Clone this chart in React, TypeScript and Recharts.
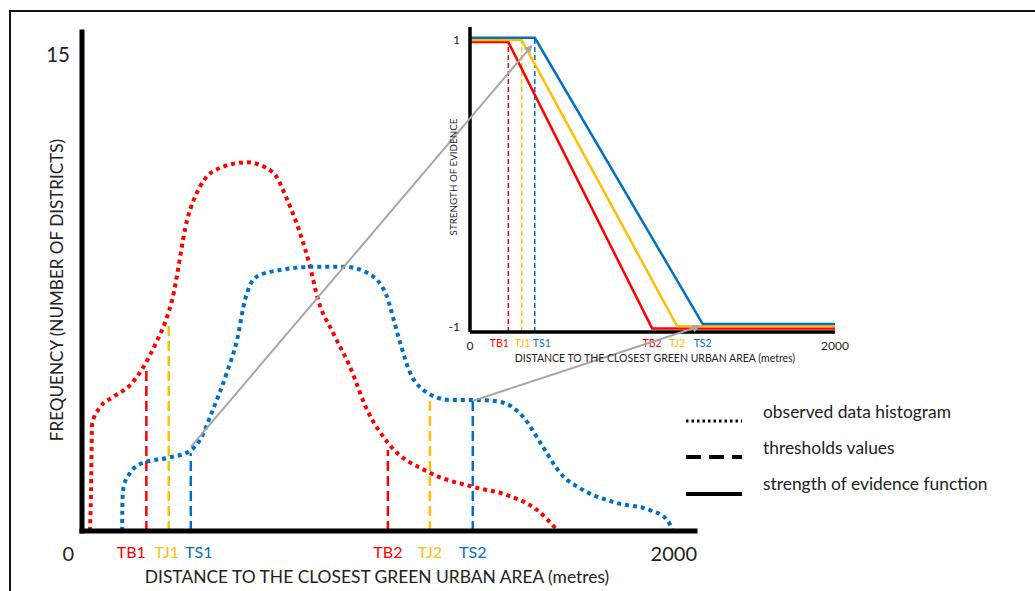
import { ComposedChart, Line, XAxis, YAxis, ReferenceLine } from 'recharts';

// threshold positions (metres)
const TH_NAMES = ['TB1', 'TJ1', 'TS1', 'TB2', 'TJ2', 'TS2'];
const TH_VALUES = [210, 283, 355, 998, 1135, 1275];
// how high each dashed threshold line reaches in the histogram (districts)
const TH_HEIGHTS = [5.1, 6.6, 2.45, 2.55, 4.2, 4.1];

const RED = '#ff0000';
const YELLOW = '#ffc000';
const BLUE = '#0070c0';
const TH_COLORS = [RED, YELLOW, BLUE, RED, YELLOW, BLUE];

const X_TICKS = [0, 2000];
const Y_TICKS = [15];

// observed data histograms (distance, frequency)
const redHist = [
  { x: 26, y: 0 }, { x: 29, y: 1.0 }, { x: 33, y: 3.38 }, { x: 59, y: 3.9 },
  { x: 101, y: 4.22 }, { x: 157, y: 4.6 }, { x: 199, y: 5.15 }, { x: 245, y: 6.0 },
  { x: 274, y: 6.65 }, { x: 294, y: 7.28 }, { x: 343, y: 9.8 }, { x: 385, y: 10.85 },
  { x: 440, y: 11.4 }, { x: 538, y: 11.62 }, { x: 623, y: 11.3 }, { x: 669, y: 10.45 },
  { x: 711, y: 9.4 }, { x: 744, y: 8.33 }, { x: 770, y: 7.3 }, { x: 819, y: 6.25 },
  { x: 874, y: 5.18 }, { x: 930, y: 3.82 }, { x: 998, y: 2.78 }, { x: 1136, y: 1.83 },
  { x: 1276, y: 1.39 }, { x: 1387, y: 1.13 }, { x: 1485, y: 0.66 }, { x: 1553, y: 0 },
];

const blueHist = [
  { x: 131, y: 0 }, { x: 132, y: 0.98 }, { x: 136, y: 1.4 }, { x: 157, y: 1.83 },
  { x: 199, y: 2.15 }, { x: 277, y: 2.3 }, { x: 346, y: 2.49 }, { x: 385, y: 2.87 },
  { x: 427, y: 3.82 }, { x: 473, y: 5.0 }, { x: 506, y: 6.03 }, { x: 532, y: 7.29 },
  { x: 571, y: 8.02 }, { x: 656, y: 8.24 }, { x: 767, y: 8.33 }, { x: 852, y: 8.33 },
  { x: 930, y: 8.14 }, { x: 995, y: 7.39 }, { x: 1005, y: 7.07 }, { x: 1038, y: 5.93 },
  { x: 1070, y: 5.0 }, { x: 1113, y: 4.45 }, { x: 1201, y: 4.13 }, { x: 1289, y: 4.13 },
  { x: 1364, y: 4.07 }, { x: 1439, y: 3.6 }, { x: 1504, y: 2.65 }, { x: 1560, y: 1.83 },
  { x: 1635, y: 1.29 }, { x: 1746, y: 0.88 }, { x: 1853, y: 0.66 }, { x: 1909, y: 0.35 },
  { x: 1928, y: 0 },
];

// strength of evidence functions (slightly offset so the three stay visible)
const redSoe = [
  { x: 0, y: 0.985 }, { x: 210, y: 0.985 }, { x: 998, y: -1.01 }, { x: 2000, y: -1.01 },
];
const yellowSoe = [
  { x: 0, y: 1.0 }, { x: 283, y: 1.0 }, { x: 1135, y: -0.995 }, { x: 2000, y: -0.995 },
];
const blueSoe = [
  { x: 0, y: 1.015 }, { x: 355, y: 1.015 }, { x: 1275, y: -0.98 }, { x: 2000, y: -0.98 },
];
const SOE_TOPS = [0.985, 1.0, 1.015];
const INSET_Y_TICKS = [-1, 1];

const W = 1035;
const H = 591;
const MAIN = { left: 82, right: 695, top: 32, bottom: 531, yMax: 15.725 };
const INSET = { left: 470, right: 835, top: 27, bottom: 332, yMin: -1.035, yMax: 1.09 };
const FONT = 'Lato, "Open Sans", sans-serif';
const TEXT = '#222';

const MAIN_DX = [-15, -2, 8, 0, 0, 0];
const INSET_DX = [-9, 1, 7, 0, 0, 0];

const mainX = (v: number) => MAIN.left + (v / 2000) * (MAIN.right - MAIN.left);
const mainY = (v: number) => MAIN.bottom - (v / MAIN.yMax) * (MAIN.bottom - MAIN.top);
const insetX = (v: number) => INSET.left + (v / 2000) * (INSET.right - INSET.left);
const insetY = (v: number) =>
  INSET.bottom - ((v - INSET.yMin) / (INSET.yMax - INSET.yMin)) * (INSET.bottom - INSET.top);

function MainXTick(props: any) {
  const { x, payload } = props;
  const v = payload.value;
  const i = TH_VALUES.indexOf(v);
  if (i < 0) {
    return (
      <text x={v === 0 ? x - 8 : x + 2} y={MAIN.bottom + 30} textAnchor="end" fontSize={20} fill={TEXT} fontFamily={FONT}>
        {v}
      </text>
    );
  }
  return (
    <text x={x + MAIN_DX[i]} y={MAIN.bottom + 27} textAnchor="middle" fontSize={16} fill={TH_COLORS[i]} fontFamily={FONT}>
      {TH_NAMES[i]}
    </text>
  );
}

function MainYTick(props: any) {
  const { y, payload } = props;
  return (
    <text x={MAIN.left - 12} y={y} dy={7} textAnchor="end" fontSize={20.5} fill={TEXT} fontFamily={FONT}>
      {payload.value}
    </text>
  );
}

function InsetXTick(props: any) {
  const { x, payload } = props;
  const v = payload.value;
  const i = TH_VALUES.indexOf(v);
  if (i < 0) {
    return (
      <text x={x} y={INSET.bottom + 18} textAnchor="middle" fontSize={12} fill={TEXT} fontFamily={FONT}>
        {v}
      </text>
    );
  }
  return (
    <text x={x + INSET_DX[i]} y={INSET.bottom + 15} textAnchor="middle" fontSize={10.5} fill={TH_COLORS[i]} fontFamily={FONT}>
      {TH_NAMES[i]}
    </text>
  );
}

function InsetYTick(props: any) {
  const { y, payload } = props;
  return (
    <text x={INSET.left - 10} y={y} dy={4} textAnchor="end" fontSize={12} fill={TEXT} fontFamily={FONT}>
      {payload.value}
    </text>
  );
}

const dotted = { strokeWidth: 4, strokeDasharray: '4 4' };

export default function App() {
  const abs = { position: 'absolute' as const, left: 0, top: 0 };
  return (
    <div style={{ ...abs, width: W, height: H, background: '#fff', overflow: 'hidden', fontFamily: FONT }}>
      <div
        style={{
          position: 'absolute', left: 9, top: 10, width: W, height: H,
          borderTop: '2px solid #111', borderLeft: '2px solid #111',
        }}
      />

      <div style={abs}>
        <ComposedChart
          width={W}
          height={H}
          margin={{ top: MAIN.top, left: MAIN.left - 1, right: W - MAIN.right, bottom: H - MAIN.bottom - 1 }}
        >
          <XAxis
            type="number"
            dataKey="x"
            domain={[0, 2000]}
            ticks={[...X_TICKS, ...TH_VALUES]}
            interval={0}
            height={1}
            tickLine={false}
            axisLine={{ stroke: '#000', strokeWidth: 5, strokeLinecap: 'square' }}
            tick={<MainXTick />}
          />
          <YAxis
            type="number"
            domain={[0, MAIN.yMax]}
            ticks={Y_TICKS}
            width={1}
            tickLine={false}
            axisLine={{ stroke: '#000', strokeWidth: 5, strokeLinecap: 'square' }}
            tick={<MainYTick />}
          />
          {TH_VALUES.map((t, i) => (
            <ReferenceLine
              key={TH_NAMES[i]}
              segment={[{ x: t, y: 0 }, { x: t, y: TH_HEIGHTS[i] }]}
              stroke={TH_COLORS[i]}
              strokeWidth={2.5}
              strokeDasharray="10 5"
              ifOverflow="visible"
            />
          ))}
          <Line data={redHist} dataKey="y" type="monotone" stroke={RED} {...dotted} dot={false} isAnimationActive={false} />
          <Line data={blueHist} dataKey="y" type="monotone" stroke={BLUE} {...dotted} dot={false} isAnimationActive={false} />
        </ComposedChart>
      </div>

      <div style={abs}>
        <ComposedChart
          width={W}
          height={H}
          margin={{ top: INSET.top, left: INSET.left - 1, right: W - INSET.right, bottom: H - INSET.bottom - 1 }}
        >
          <XAxis
            type="number"
            dataKey="x"
            domain={[0, 2000]}
            ticks={[...X_TICKS, ...TH_VALUES]}
            interval={0}
            height={1}
            tickLine={false}
            axisLine={{ stroke: '#000', strokeWidth: 3.5 }}
            tick={<InsetXTick />}
          />
          <YAxis
            type="number"
            domain={[INSET.yMin, INSET.yMax]}
            ticks={INSET_Y_TICKS}
            width={1}
            tickLine={false}
            axisLine={{ stroke: '#000', strokeWidth: 3.5 }}
            tick={<InsetYTick />}
          />
          {TH_VALUES.slice(0, 3).map((t, i) => (
            <ReferenceLine
              key={TH_NAMES[i]}
              segment={[{ x: t, y: INSET.yMin }, { x: t, y: SOE_TOPS[i] }]}
              stroke={TH_COLORS[i]}
              strokeWidth={1.5}
              strokeDasharray="5 3"
              ifOverflow="visible"
            />
          ))}
          <Line data={redSoe} dataKey="y" type="linear" stroke={RED} strokeWidth={2.5} dot={false} isAnimationActive={false} />
          <Line data={yellowSoe} dataKey="y" type="linear" stroke={YELLOW} strokeWidth={2.5} dot={false} isAnimationActive={false} />
          <Line data={blueSoe} dataKey="y" type="linear" stroke={BLUE} strokeWidth={2.5} dot={false} isAnimationActive={false} />
        </ComposedChart>
      </div>

      <svg width={W} height={H} style={{ ...abs, pointerEvents: 'none' }}>
        <defs>
          <marker id="arrow" viewBox="0 0 10 10" refX="9" refY="5" markerWidth="4" markerHeight="4" orient="auto">
            <path d="M0 0 L10 5 L0 10 z" fill="#a6a6a6" />
          </marker>
        </defs>
        {/* connectors from the histogram thresholds to the inset */}
        <line
          x1={mainX(TH_VALUES[2])} y1={mainY(TH_HEIGHTS[2] + 0.2)}
          x2={insetX(TH_VALUES[2]) - 3} y2={insetY(0.96)}
          stroke="#a6a6a6" strokeWidth={2} markerEnd="url(#arrow)"
        />
        <line
          x1={mainX(TH_VALUES[5])} y1={mainY(TH_HEIGHTS[5])}
          x2={insetX(TH_VALUES[5]) - 3} y2={insetY(-0.995)}
          stroke="#a6a6a6" strokeWidth={2} markerEnd="url(#arrow)"
        />

        <text x={377} y={H - 8} textAnchor="middle" fontSize={17.4} fill={TEXT} fontFamily={FONT}>
          DISTANCE TO THE CLOSEST GREEN URBAN AREA (metres)
        </text>
        <text transform="translate(63 290) rotate(-90)" textAnchor="middle" fontSize={17.1} fill={TEXT} fontFamily={FONT}>
          FREQUENCY (NUMBER OF DISTRICTS)
        </text>

        <text x={655} y={362} textAnchor="middle" fontSize={10.5} fill={TEXT} fontFamily={FONT}>
          DISTANCE TO THE CLOSEST GREEN URBAN AREA (metres)
        </text>
        <text transform="translate(457 177) rotate(-90)" textAnchor="middle" fontSize={9.8} fill={TEXT} fontFamily={FONT}>
          STRENGTH OF EVIDENCE
        </text>

        {/* legend */}
        <line x1={686} x2={742} y1={421} y2={421} stroke="#000" strokeWidth={3} strokeDasharray="2.5 3" />
        <line x1={686} x2={742} y1={457} y2={457} stroke="#000" strokeWidth={4} strokeDasharray="15 8" />
        <line x1={686} x2={742} y1={494} y2={494} stroke="#000" strokeWidth={4} />
        <text x={763} y={418} fontSize={17.4} fill={TEXT} fontFamily={FONT}>observed data histogram</text>
        <text x={763} y={454} fontSize={17.4} fill={TEXT} fontFamily={FONT}>thresholds values</text>
        <text x={763} y={490} fontSize={17.4} fill={TEXT} fontFamily={FONT}>strength of evidence function</text>
      </svg>
    </div>
  );
}
